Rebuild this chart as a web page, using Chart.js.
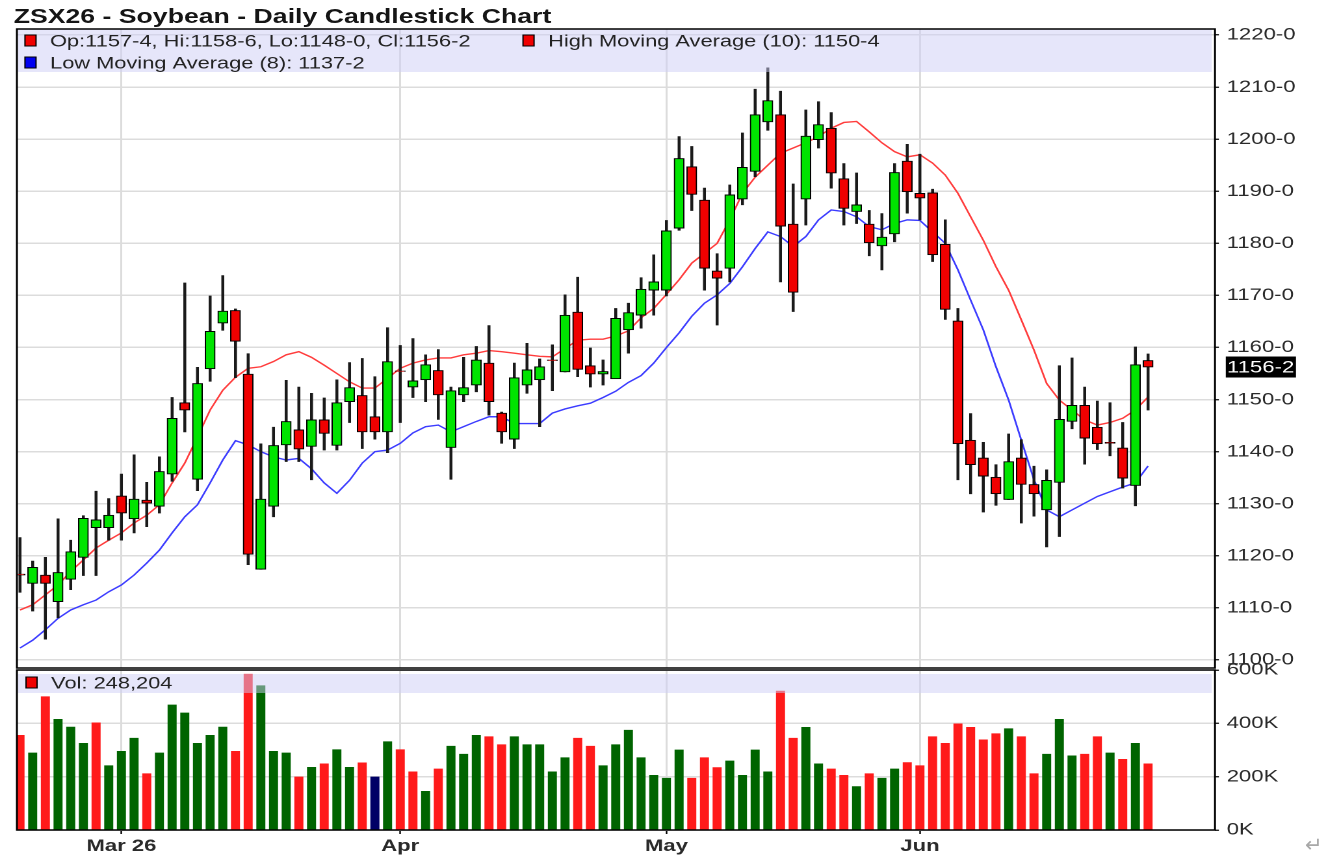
<!DOCTYPE html>
<html>
<head>
<meta charset="utf-8">
<title>ZSX26 - Soybean - Daily Candlestick Chart</title>
<script src="https://cdn.jsdelivr.net/npm/chart.js@4.4.1/dist/chart.umd.min.js"></script>
<style>
    html, body { margin: 0; padding: 0; background: #fff; }
    body { width: 1339px; height: 864px; overflow: hidden; position: relative; }
    /* the reference is drawn wide: everything is laid out at 1030px and stretched */
    #stage { position: absolute; left: 0; top: 0; width: 1030px; height: 864px; transform: scaleX(1.3); transform-origin: 0 0; }
    #title { position: absolute; left: 10.5px; top: 5.5px; font: bold 20.5px 'Liberation Sans', Arial, sans-serif; line-height: 20px; color: #151515; white-space: nowrap; }
    #priceChart { position: absolute; left: 0; top: 0; }
    #volChart { position: absolute; left: 0; top: 640px; }
    #mark { position: absolute; left: 1305px; top: 833px; font: 21px 'DejaVu Sans', sans-serif; color: #a8a8a8; }
</style>
</head>
<body>
<div id="stage">
    <div id="title">ZSX26 - Soybean - Daily Candlestick Chart</div>
    <canvas id="priceChart" width="1030" height="680"></canvas>
    <canvas id="volChart" width="1030" height="224"></canvas>
</div>
<div id="mark">↵</div>

<script>
// =========================
// DATA
// =========================
const opens = [
    1116.5, 1114.7, 1116.3, 1111.2, 1115.5, 1119.7, 1125.4, 1125.4, 1131.5, 1127.1,
    1130.7, 1129.5, 1135.7, 1149.4, 1134.7, 1155.9, 1164.7, 1167.1, 1154.9, 1117.4,
    1129.5, 1141.3, 1144.2, 1141.0, 1146.1, 1141.2, 1149.6, 1150.8, 1146.7, 1143.8,
    1155.5, 1152.4, 1153.8, 1155.6, 1140.8, 1150.9, 1152.8, 1157.0, 1147.4, 1142.4,
    1152.8, 1153.8, 1157.6, 1155.3, 1166.8, 1156.5, 1154.9, 1154.0, 1163.4, 1166.2,
    1171.0, 1171.0, 1182.9, 1194.7, 1188.3, 1174.7, 1175.2, 1188.5, 1193.8, 1203.3,
    1204.7, 1183.7, 1188.5, 1199.9, 1202.1, 1192.4, 1186.1, 1183.7, 1179.5, 1181.8,
    1195.8, 1189.6, 1189.7, 1179.8, 1165.1, 1142.2, 1138.8, 1135.1, 1130.8, 1138.8,
    1133.7, 1128.8, 1134.1, 1145.8, 1148.9, 1144.7, 1141.8, 1140.7, 1133.5, 1157.5
];

const highs = [
    1123.5, 1119.0, 1119.7, 1127.1, 1123.0, 1127.7, 1132.4, 1131.0, 1135.7, 1139.4,
    1134.1, 1139.0, 1150.4, 1172.4, 1156.2, 1169.9, 1173.8, 1167.4, 1158.8, 1141.5,
    1144.7, 1153.7, 1152.4, 1151.2, 1150.3, 1153.8, 1157.1, 1157.9, 1154.4, 1163.8,
    1160.4, 1161.7, 1158.6, 1159.6, 1152.4, 1158.1, 1160.2, 1164.2, 1147.6, 1157.0,
    1160.8, 1157.8, 1160.5, 1170.1, 1173.5, 1159.9, 1157.6, 1167.5, 1168.5, 1173.4,
    1177.8, 1184.4, 1200.5, 1198.6, 1190.6, 1178.0, 1191.2, 1201.2, 1209.6, 1213.7,
    1209.2, 1191.4, 1205.6, 1207.2, 1205.1, 1195.3, 1193.5, 1186.3, 1185.7, 1195.3,
    1199.0, 1197.1, 1190.4, 1184.5, 1167.5, 1147.3, 1141.8, 1137.5, 1143.4, 1142.3,
    1137.2, 1136.5, 1156.5, 1158.0, 1152.4, 1149.7, 1149.4, 1145.6, 1160.1, 1158.75
];

const lows = [
    1113.0, 1109.4, 1104.0, 1108.1, 1113.5, 1116.2, 1116.2, 1123.0, 1123.0, 1124.4,
    1125.6, 1128.2, 1134.3, 1143.8, 1132.5, 1153.5, 1163.3, 1154.2, 1118.3, 1117.4,
    1127.5, 1138.1, 1138.1, 1134.6, 1140.3, 1140.3, 1145.6, 1140.6, 1142.4, 1139.8,
    1145.6, 1150.4, 1149.6, 1146.2, 1134.7, 1149.6, 1151.5, 1147.0, 1141.6, 1140.6,
    1151.2, 1144.8, 1151.7, 1155.3, 1154.4, 1152.4, 1152.8, 1154.1, 1158.9, 1163.7,
    1166.2, 1169.9, 1182.5, 1186.3, 1171.0, 1164.3, 1172.6, 1187.4, 1192.8, 1201.7,
    1172.6, 1166.9, 1183.5, 1198.3, 1190.6, 1183.5, 1183.8, 1177.6, 1174.9, 1180.3,
    1185.8, 1184.5, 1176.5, 1165.4, 1134.6, 1131.9, 1128.4, 1129.7, 1130.8, 1126.3,
    1127.6, 1121.7, 1123.7, 1144.4, 1137.6, 1140.4, 1139.2, 1133.0, 1129.6, 1148.0
];

const closes = [
    1116.3, 1117.8, 1114.7, 1116.8, 1120.8, 1127.2, 1126.9, 1127.8, 1128.2, 1130.9,
    1130.1, 1136.2, 1146.4, 1148.0, 1153.1, 1163.1, 1167.0, 1161.2, 1120.3, 1130.9,
    1141.2, 1145.8, 1140.5, 1146.1, 1143.5, 1149.4, 1152.3, 1143.8, 1143.8, 1157.3,
    1155.4, 1153.6, 1156.7, 1150.9, 1151.7, 1152.3, 1157.6, 1149.6, 1143.8, 1154.2,
    1155.7, 1156.3, 1157.5, 1166.2, 1155.8, 1154.9, 1155.4, 1165.6, 1166.7, 1171.2,
    1172.6, 1182.4, 1196.3, 1189.4, 1175.2, 1173.3, 1189.3, 1194.6, 1204.7, 1207.4,
    1183.3, 1170.6, 1200.6, 1202.8, 1193.5, 1186.7, 1187.4, 1180.1, 1181.2, 1193.6,
    1189.9, 1188.7, 1177.8, 1167.3, 1141.5, 1137.5, 1135.3, 1131.9, 1138.1, 1133.7,
    1131.9, 1134.5, 1146.2, 1148.9, 1142.6, 1141.5, 1141.6, 1134.9, 1156.7, 1156.25
];

// High Moving Average (10)
const highMA = [
    1109.6, 1110.6, 1112.5, 1114.4, 1117.0, 1119.2, 1121.5, 1123.0, 1124.4, 1126.3,
    1127.8, 1129.8, 1134.0, 1137.8, 1142.8, 1148.0, 1151.8, 1154.3, 1156.0, 1156.3,
    1157.3, 1158.6, 1159.2, 1158.1, 1156.6, 1155.0, 1153.4, 1152.2, 1152.2, 1154.1,
    1156.0, 1157.0, 1157.6, 1158.0, 1158.0, 1158.6, 1158.9, 1159.4, 1159.2, 1158.9,
    1158.6, 1158.3, 1158.2, 1159.8, 1161.4, 1161.6, 1161.6, 1162.2, 1163.2, 1165.7,
    1167.5, 1170.2, 1173.0, 1176.2, 1178.1, 1180.0, 1184.5, 1189.6, 1192.7, 1195.0,
    1197.3, 1198.3, 1199.3, 1200.5, 1202.1, 1203.2, 1203.4, 1201.4, 1199.3, 1197.6,
    1196.6, 1197.0, 1195.4, 1193.1, 1189.6, 1185.1, 1180.6, 1175.5, 1171.0, 1165.3,
    1159.5, 1153.1, 1149.9, 1148.0, 1146.1, 1145.1, 1145.6, 1146.4, 1148.0, 1150.5
];

// Low Moving Average (8)
const lowMA = [
    1102.3, 1103.8, 1105.8, 1108.0, 1109.6, 1110.6, 1111.5, 1113.1, 1114.4, 1116.3,
    1118.6, 1121.1, 1124.4, 1127.5, 1129.8, 1134.0, 1138.4, 1142.1, 1141.3, 1140.0,
    1139.0, 1138.4, 1138.7, 1136.7, 1134.0, 1132.0, 1134.5, 1137.8, 1140.0, 1140.3,
    1141.6, 1143.6, 1144.8, 1145.1, 1143.8, 1144.8, 1145.8, 1146.7, 1146.7, 1145.4,
    1145.4, 1145.4, 1147.4, 1148.2, 1148.8, 1149.3, 1150.4, 1151.6, 1153.3, 1154.6,
    1157.0, 1160.0, 1162.8, 1166.0, 1168.5, 1170.1, 1172.3, 1175.5, 1179.0, 1182.2,
    1181.3, 1179.4, 1181.3, 1184.5, 1186.4, 1186.1, 1185.1, 1183.2, 1182.6, 1183.8,
    1184.5, 1184.4, 1182.2, 1180.0, 1174.9, 1169.1, 1163.4, 1156.3, 1149.9, 1142.2,
    1134.6, 1128.8, 1127.5, 1128.8, 1130.1, 1131.4, 1132.3, 1133.2, 1134.0, 1137.25
];

const volumes = [
    355000, 289000, 500000, 415000, 386000, 325000, 402000, 241000, 295000, 344000,
    211000, 289000, 469000, 439000, 325000, 355000, 386000, 295000, 584000, 541000,
    295000, 289000, 199000, 235000, 248000, 301000, 235000, 252000, 199000, 331000,
    301000, 218000, 145000, 229000, 314000, 284000, 355000, 350000, 320000, 350000,
    320000, 320000, 218000, 271000, 344000, 314000, 241000, 320000, 374000, 271000,
    205000, 194000, 300000, 194000, 271000, 234000, 259000, 205000, 300000, 218000,
    521000, 344000, 385000, 248000, 229000, 205000, 163000, 211000, 194000, 229000,
    253000, 241000, 350000, 325000, 398000, 385000, 338000, 361000, 380000, 350000,
    211000, 284000, 415000, 278000, 284000, 350000, 289000, 265000, 325000, 248204
];

// bar index of the first session of each month, and its label
const monthTicks = [8, 30, 51, 71];
const monthLabels = ['Mar 26', 'Apr', 'May', 'Jun'];

const priceTicks = [1100, 1110, 1120, 1130, 1140, 1150, 1160, 1170, 1180, 1190, 1200, 1210, 1220];
const volTicks = [0, 200000, 400000, 600000];

// =========================
// HELPERS
// =========================
const FONT = "'Liberation Sans', Arial, sans-serif";
const AXIS_W = 95.4;
const X_MIN = -0.245;
const X_MAX = 94.28;
const last = closes.length - 1;

// 1156.25 -> "1156-2" (cents and eighths)
function fmtPrice(v) {
    const whole = Math.floor(v + 1e-9);
    const eighths = Math.round((v - whole) * 8);
    return `${whole}-${eighths}`;
}

const xy = (arr) => arr.map((v, i) => ({ x: i, y: v }));

const bodyColors = opens.map((o, i) => closes[i] >= o ? '#00e400' : '#f00000');

const volColors = volumes.map((_, i) => {
    if (i === 0 || closes[i] < closes[i - 1]) return '#ff1a1a';
    if (closes[i] > closes[i - 1]) return '#006400';
    return '#000066';
});

// header band, legend squares and panel frame
function makeDecor(band, items) {
    return {
        id: 'decor',
        afterDatasetsDraw(chart) {
            const { ctx, chartArea: a } = chart;
            ctx.save();

            ctx.fillStyle = 'rgba(205,205,245,0.5)';
            ctx.fillRect(a.left + 1, a.top + band.top, a.right - a.left - 3.5, band.height);

            ctx.font = `16.8px ${FONT}`;
            ctx.textBaseline = 'alphabetic';
            items.forEach(it => {
                ctx.fillStyle = it.color;
                ctx.fillRect(a.left + it.x, a.top + it.y, 8.5, 11);
                ctx.strokeStyle = '#000';
                ctx.lineWidth = 1;
                ctx.strokeRect(a.left + it.x, a.top + it.y, 8.5, 11);
                ctx.fillStyle = '#222';
                ctx.fillText(it.text, a.left + it.x + 19.3, a.top + it.y + 11.5);
            });

            ctx.strokeStyle = '#000';
            ctx.lineWidth = 1.5;
            ctx.strokeRect(a.left, a.top, a.right - a.left, a.bottom - a.top);
            ctx.restore();
        }
    };
}

// black box with the last close on the price axis
const lastPriceTag = {
    id: 'lastPrice',
    afterDraw(chart) {
        const { ctx, chartArea: a } = chart;
        const y = chart.scales.y.getPixelForValue(closes[last]);
        ctx.save();
        ctx.fillStyle = '#000';
        ctx.fillRect(a.right + 8.3, y - 10.5, 54, 21);
        ctx.fillStyle = '#fff';
        ctx.font = `17px ${FONT}`;
        ctx.textBaseline = 'middle';
        ctx.fillText(fmtPrice(closes[last]), a.right + 9.3, y + 1);
        ctx.restore();
    }
};

const baseOptions = {
    responsive: false,
    animation: false,
    devicePixelRatio: 2,
    events: [],
    plugins: {
        legend: { display: false },
        tooltip: { enabled: false }
    }
};

// =========================
// PRICE PANEL
// =========================
const priceItems = [
    {
        x: 6.2, y: 6, color: '#f00000',
        text: `Op:${fmtPrice(opens[last])}, Hi:${fmtPrice(highs[last])}, Lo:${fmtPrice(lows[last])}, Cl:${fmtPrice(closes[last])}`
    },
    { x: 389.3, y: 6, color: '#f00000', text: `High Moving Average (10): ${fmtPrice(highMA[last])}` },
    { x: 6.2, y: 28, color: '#0000f0', text: `Low Moving Average (8): ${fmtPrice(lowMA[last])}` }
];

new Chart(document.getElementById('priceChart'), {
    type: 'bar',
    data: {
        datasets: [
            {
                type: 'line', data: xy(highMA), borderColor: '#ff3c3c', borderWidth: 1.4,
                pointRadius: 0, tension: 0, order: 3
            },
            {
                type: 'line', data: xy(lowMA), borderColor: '#3c3cff', borderWidth: 1.4,
                pointRadius: 0, tension: 0, order: 3
            },
            {
                // wicks
                data: lows.map((l, i) => ({ x: i, y: [l, highs[i]] })),
                backgroundColor: '#1a1a1a', barThickness: 1.6, grouped: false, order: 2
            },
            {
                // bodies
                data: opens.map((o, i) => ({ x: i, y: [o, closes[i]] })),
                backgroundColor: bodyColors, borderColor: '#000', borderWidth: 1,
                borderSkipped: false, barThickness: 7.6, grouped: false, order: 1
            }
        ]
    },
    options: {
        ...baseOptions,
        layout: { padding: { left: 13, top: 29, right: 0, bottom: 12 } },
        scales: {
            x: {
                type: 'linear', min: X_MIN, max: X_MAX, offset: false,
                afterBuildTicks: s => { s.ticks = monthTicks.map(v => ({ value: v })); },
                afterFit: s => { s.height = 0; s.paddingLeft = 0; s.paddingRight = 0; },
                grid: { color: '#dcdcdc', lineWidth: 1.5, drawTicks: false, offset: false },
                border: { display: false },
                ticks: { display: false }
            },
            y: {
                position: 'right', min: 1098.46, max: 1221.15,
                afterBuildTicks: s => { s.ticks = priceTicks.map(v => ({ value: v })); },
                afterFit: s => { s.width = AXIS_W; s.paddingTop = 0; s.paddingBottom = 0; },
                grid: { color: '#dcdcdc', lineWidth: 1.5, tickColor: '#000', tickLength: 3, tickWidth: 1.2 },
                border: { display: false },
                ticks: {
                    padding: 6, color: '#2a2a2a',
                    font: { family: FONT, size: 17 },
                    callback: v => fmtPrice(v)
                }
            }
        }
    },
    plugins: [makeDecor({ top: 0, height: 43 }, priceItems), lastPriceTag]
});

// =========================
// VOLUME PANEL
// =========================
const volItems = [
    { x: 7, y: 7, color: '#f00000', text: `Vol: ${volumes[last].toLocaleString('en-US')}` }
];

new Chart(document.getElementById('volChart'), {
    type: 'bar',
    data: {
        datasets: [{
            data: xy(volumes),
            backgroundColor: volColors, barThickness: 6.3, grouped: false
        }]
    },
    options: {
        ...baseOptions,
        layout: { padding: { left: 13, top: 30, right: 0, bottom: 0 } },
        scales: {
            x: {
                type: 'linear', min: X_MIN, max: X_MAX, offset: false,
                afterBuildTicks: s => { s.ticks = monthTicks.map(v => ({ value: v })); },
                afterFit: s => { s.height = 34; s.paddingLeft = 0; s.paddingRight = 0; },
                grid: { color: '#dcdcdc', lineWidth: 1.5, tickColor: '#000', tickLength: 4, tickWidth: 1.2, offset: false },
                border: { display: false },
                ticks: {
                    padding: 2, color: '#2a2a2a', maxRotation: 0, autoSkip: false,
                    font: { family: FONT, size: 17, weight: 'bold' },
                    callback: v => monthLabels[monthTicks.indexOf(v)]
                }
            },
            y: {
                position: 'right', min: 0, max: 600000,
                afterBuildTicks: s => { s.ticks = volTicks.map(v => ({ value: v })); },
                afterFit: s => { s.width = AXIS_W; s.paddingTop = 0; s.paddingBottom = 0; },
                grid: { color: '#dcdcdc', lineWidth: 1.5, tickColor: '#000', tickLength: 3, tickWidth: 1.2 },
                border: { display: false },
                ticks: {
                    padding: 6, color: '#2a2a2a',
                    font: { family: FONT, size: 17 },
                    callback: v => `${v / 1000}K`
                }
            }
        }
    },
    plugins: [makeDecor({ top: 4, height: 19 }, volItems)]
});
</script>
</body>
</html>
